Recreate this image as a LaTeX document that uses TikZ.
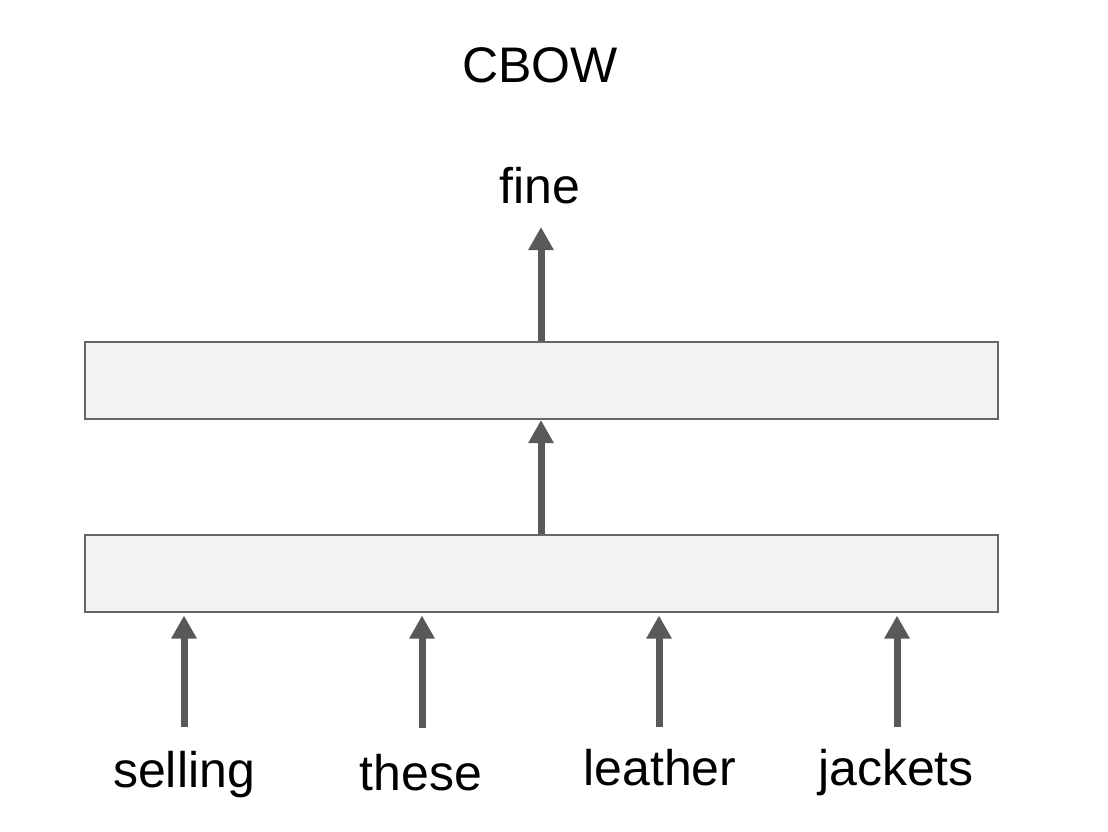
\documentclass[tikz,border=0pt]{standalone}
\usepackage{fontspec}
\setmainfont{Liberation Sans}
\usetikzlibrary{arrows.meta}
\definecolor{boxfill}{HTML}{F2F2F2}
\definecolor{boxline}{HTML}{666666}
\definecolor{arrowc}{HTML}{595959}
\begin{document}
\begin{tikzpicture}[x=1pt,y=-1pt,
  layer/.style={draw=boxline,fill=boxfill,line width=2pt,minimum width=913pt,minimum height=77pt,inner sep=0pt},
  word/.style={anchor=base,inner sep=0pt,font=\fontsize{50}{60}\selectfont},
  uparrow/.style={draw=arrowc,line width=7pt,-{Triangle[length=23pt,width=24pt]}}]
\useasboundingbox (0,0) rectangle (1108,832);
\node[word] (title) at (540,83) {CBOW};
\node[word] (fine) at (540,203) {fine};
\node[layer] (top) at (541,380.5) {};
\node[layer] (bot) at (541,573) {};
\node[word] (w1) at (184,787) {selling};
\node[word] (w2) at (421,790) {these};
\node[word] (w3) at (660,785) {leather};
\node[word] (w4) at (896,785) {jackets};
\coordinate (out) at (541,227);
\coordinate (a1) at (184,727);
\coordinate (a2) at (422,728);
\coordinate (a3) at (659,727);
\coordinate (a4) at (897,727);
\draw[uparrow] (top.north) -- (out);
\draw[uparrow] (bot.north) -- (top.south);
\foreach \i in {1,...,4}{
  \draw[uparrow,shorten >=3pt] (a\i) -- (a\i |- bot.south);
}
\end{tikzpicture}
\end{document}
